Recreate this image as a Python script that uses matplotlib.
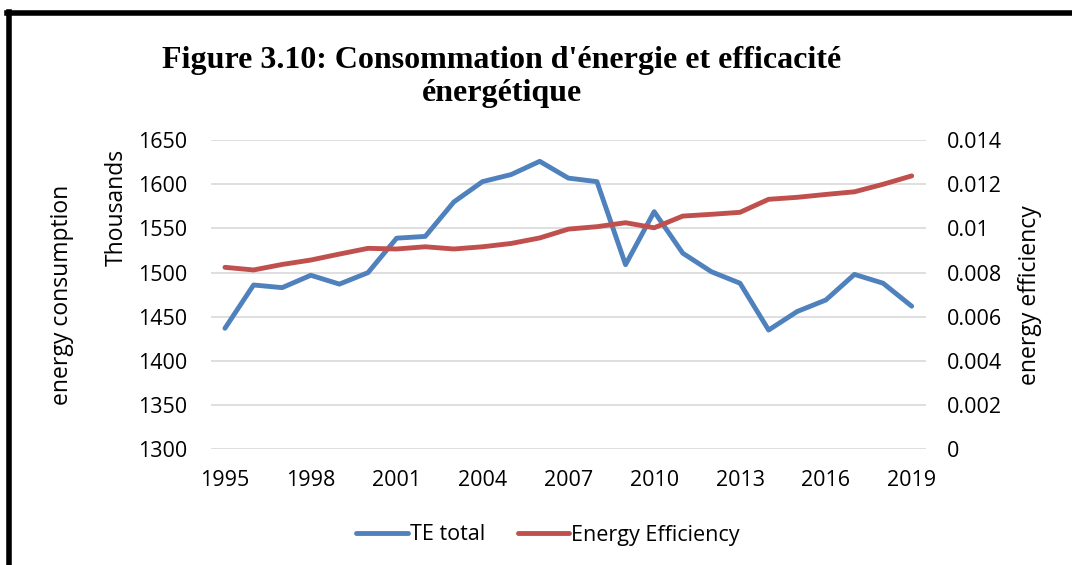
import matplotlib.pyplot as plt
from matplotlib.lines import Line2D

years = list(range(1995, 2020))
te_total = [1437, 1486, 1483, 1497, 1487, 1500, 1539, 1541, 1580, 1603,
            1611, 1626, 1607, 1603, 1509, 1569, 1522, 1501, 1488, 1435,
            1456, 1469, 1498, 1488, 1462]
energy_eff = [0.00824, 0.00812, 0.00837, 0.00857, 0.00884, 0.0091, 0.00907,
              0.00917, 0.00907, 0.00917, 0.00932, 0.00957, 0.00997, 0.01008,
              0.01026, 0.01003, 0.01056, 0.01064, 0.01073, 0.01132, 0.01141,
              0.01154, 0.01166, 0.012, 0.01238]
left_ticks = [1300, 1350, 1400, 1450, 1500, 1550, 1600, 1650]
right_ticks = [0, 0.002, 0.004, 0.006, 0.008, 0.01, 0.012, 0.014]
right_labels = ['0', '0.002', '0.004', '0.006', '0.008', '0.01', '0.012', '0.014']
x_labels = years[::3]

blue = '#4F81BD'
red = '#C0504D'
plt.rcParams['font.family'] = ['Open Sans', 'DejaVu Sans']

fig = plt.figure(figsize=(10.72, 5.65), dpi=100)
ax = fig.add_axes([0.1965, 0.2048, 0.6673, 0.5472])
ax2 = ax.twinx()

ax.plot(years, te_total, color=blue, lw=3.5, solid_capstyle='round', zorder=3)
ax2.plot(years, energy_eff, color=red, lw=3.5, solid_capstyle='round', zorder=3)

ax.set_xlim(1994.5, 2019.5)
ax.set_ylim(1300, 1650)
ax2.set_ylim(0, 0.014)
ax.set_yticks(left_ticks)
ax2.set_yticks(right_ticks)
ax2.set_yticklabels(right_labels)
ax.set_xticks(x_labels)
ax.grid(axis='y', color='#D9D9D9', lw=1.2)
ax.set_axisbelow(True)

for a in (ax, ax2):
    for s in a.spines.values():
        s.set_visible(False)
    a.tick_params(length=0, labelsize=15.5, colors='black')
ax.tick_params(axis='y', pad=17)
ax2.tick_params(axis='y', pad=15)
ax.tick_params(axis='x', pad=15)

fig.text(62 / 1072, 1 - 295 / 565, 'energy consumption', rotation=90,
         ha='center', va='center', fontsize=16.5)
fig.text(117 / 1072, 1 - 207 / 565, 'Thousands', rotation=90,
         ha='center', va='center', fontsize=16.5)
fig.text(1030 / 1072, 1 - 295 / 565, 'energy efficiency', rotation=90,
         ha='center', va='center', fontsize=16.5)

fig.text(502 / 1072, 1 - 77 / 565, "Figure 3.10: Consommation d'énergie et efficacité\nénergétique",
         ha='center', va='center', fontsize=23, fontweight='bold',
         family='Liberation Serif', linespacing=1.15)

handles = [Line2D([], [], color=blue, lw=3.5, solid_capstyle='round'),
           Line2D([], [], color=red, lw=3.5, solid_capstyle='round')]
fig.legend(handles, ['TE total', 'Energy Efficiency'], loc='center',
           bbox_to_anchor=(548 / 1072, 1 - 535 / 565), ncol=2, frameon=False,
           fontsize=15.5, handlelength=2.4, handletextpad=0.1, columnspacing=1.5)

# frame of the original picture (only top and left edges visible)
fig.add_artist(Line2D([9 / 1072, 9 / 1072], [0, 1 - 12 / 565], color='black', lw=4))
fig.add_artist(Line2D([7 / 1072, 1], [1 - 13 / 565, 1 - 13 / 565], color='black', lw=4))

fig.savefig('out.png', dpi=100)
